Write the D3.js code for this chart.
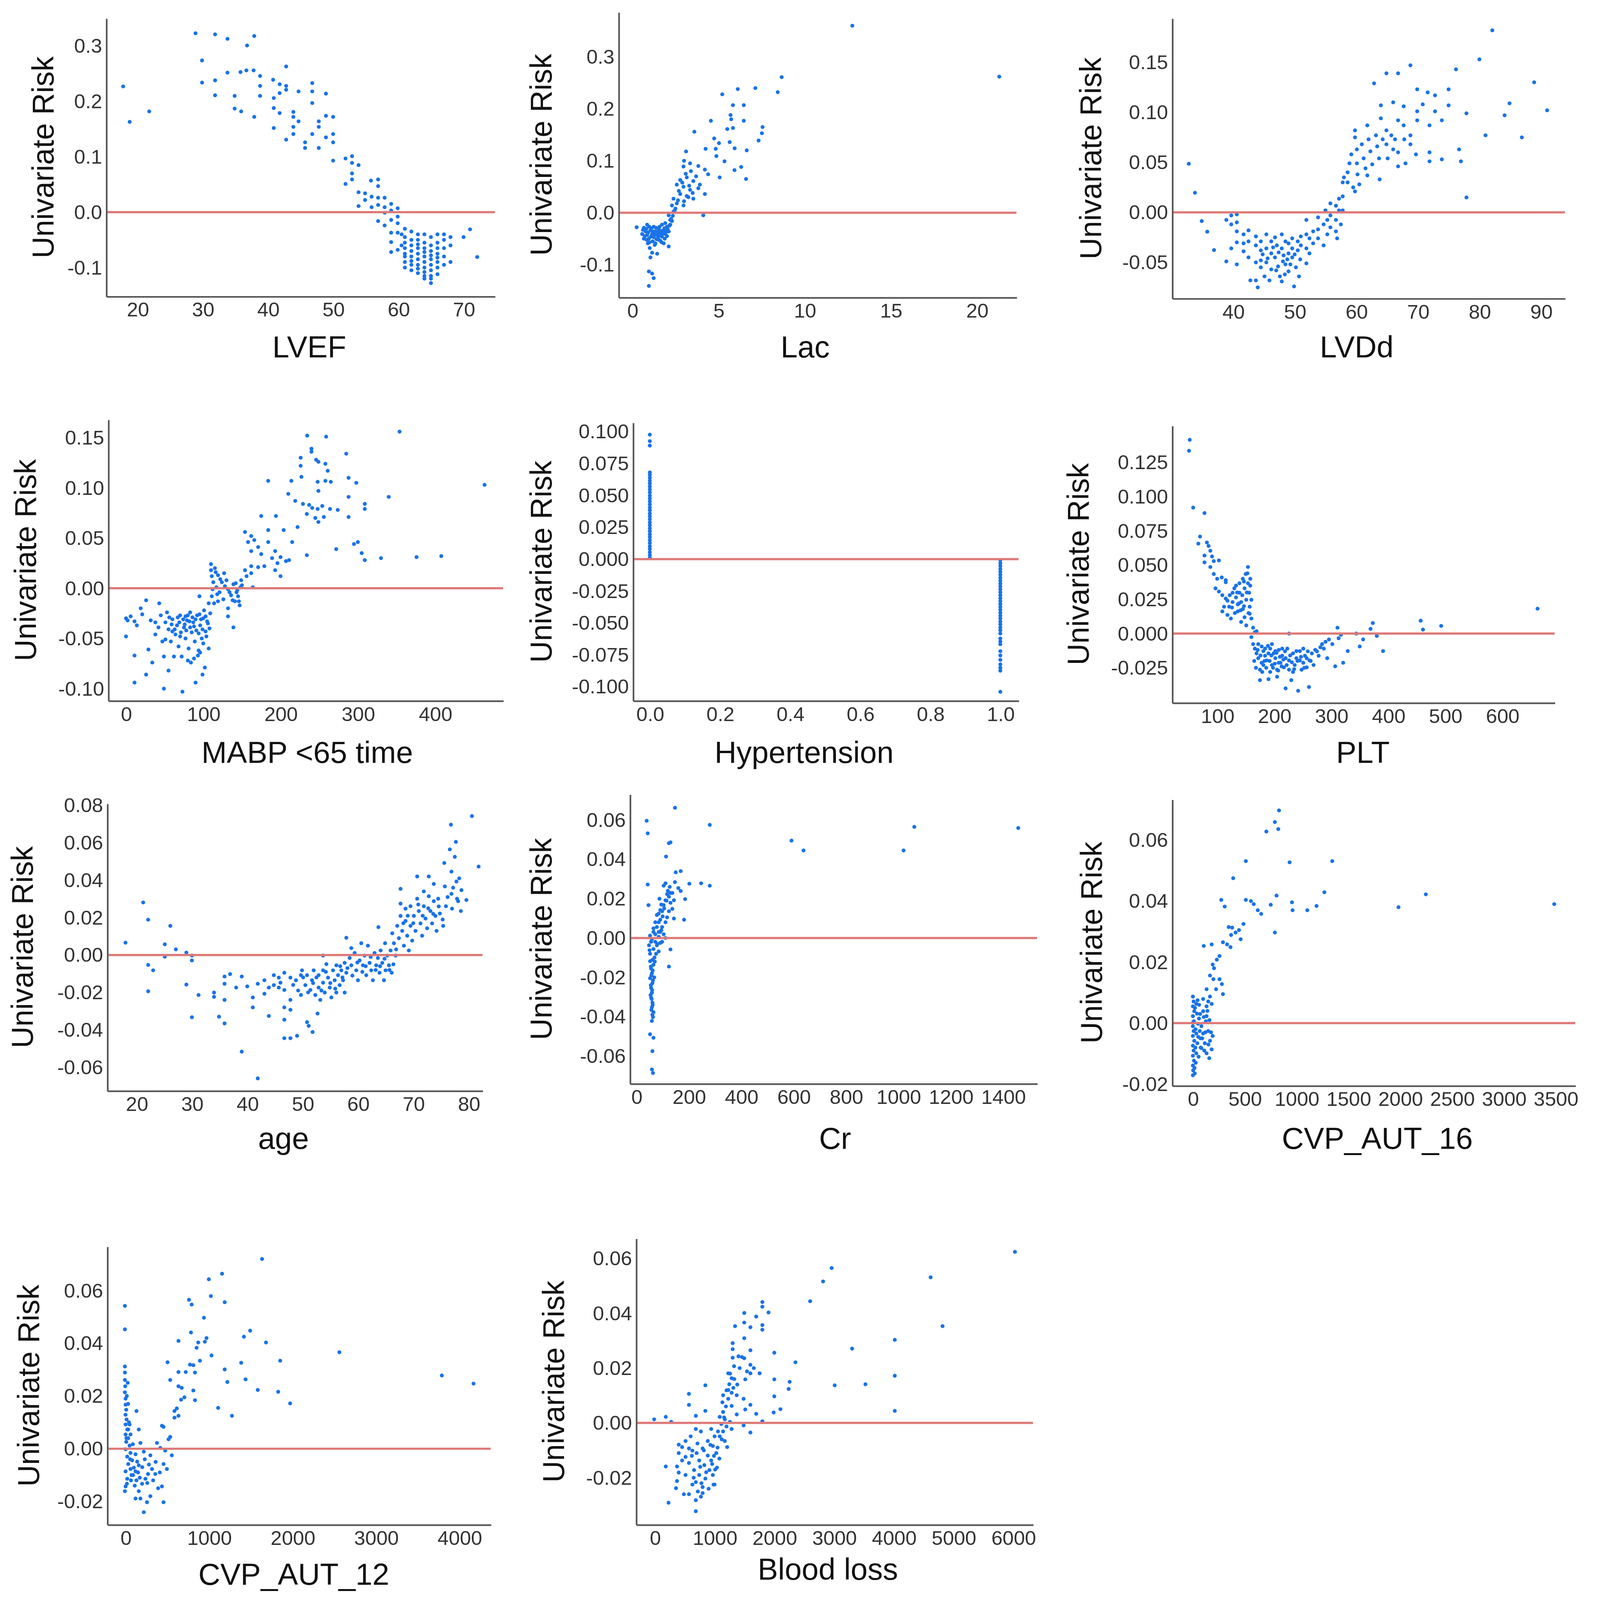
<!DOCTYPE html>
<html>
<head>
<meta charset="utf-8">
<script src="https://cdn.jsdelivr.net/npm/d3@7"></script>
<style>
  html, body { margin: 0; width: 100%; height: 100%; overflow: hidden; background: #fff; }
  svg { display: block; }
</style>
</head>
<body>
<script>
// Univariate risk scatter panels.

const lvef = [
  [17.8,0.227],[18.8,0.163],[21.8,0.182],[28.9,0.323],[29.9,0.274],[29.9,0.234],[31.9,0.321],[31.9,0.238],
  [31.9,0.211],[33.8,0.313],[33.8,0.252],[34.9,0.21],[34.9,0.187],[35.8,0.253],[35.9,0.182],[36.8,0.301],
  [36.7,0.256],[37.9,0.318],[37.8,0.256],[37.9,0.172],[38.8,0.246],[38.8,0.228],[38.8,0.21],[40.8,0.239],
  [40.9,0.206],[40.9,0.188],[40.9,0.152],[41.8,0.231],[41.8,0.215],[41.8,0.179],[42.8,0.263],[42.8,0.228],
  [42.8,0.221],[42.8,0.131],[43.9,0.181],[43.9,0.172],[43.9,0.154],[43.9,0.141],[44.7,0.218],[44.7,0.164],
  [45.7,0.126],[45.7,0.116],[46.8,0.233],[46.8,0.218],[46.8,0.197],[46.8,0.141],[47.8,0.164],[47.8,0.154],
  [47.8,0.116],[48.9,0.214],[48.9,0.174],[48.9,0.135],[50,0.172],[50,0.141],[50,0.126],[50,0.093],
  [51.9,0.097],[51.9,0.051],[52.9,0.101],[52.9,0.089],[52.9,0.07],[52.9,0.059],[53.9,0.085],[53.9,0.036],
  [53.9,0.011],[54.9,0.034],[54.9,0.022],[55.8,0.057],[55.9,0.028],[55.9,0.009],[56.9,0.059],[56.9,0.047],
  [56.9,0.026],[56.9,0.013],[56.9,-0.016],[57.9,0.026],[57.9,0.009],[57.9,-0.001],[57.9,-0.024],[58.9,0.015],
  [58.9,0.003],[58.9,-0.014],[58.9,-0.037],[58.9,-0.054],[58.9,-0.072],[59.9,0.007],[59.9,-0.008],[59.9,-0.02],
  [59.9,-0.037],[59.9,-0.068],[60.5,-0.04],[60.5,-0.06],
  [61,-0.03],[61,-0.045],[61,-0.055],[61,-0.065],[61,-0.075],[61,-0.08],[61,-0.09],[61,-0.1],
  [62,-0.035],[62,-0.05],[62,-0.06],[62,-0.07],[62,-0.08],[62,-0.088],[62,-0.095],[62,-0.105],
  [63,-0.04],[63,-0.05],[63,-0.058],[63,-0.065],[63,-0.075],[63,-0.085],[63,-0.095],[63,-0.102],[63,-0.11],
  [64,-0.04],[64,-0.055],[64,-0.065],[64,-0.072],[64,-0.08],[64,-0.09],[64,-0.1],[64,-0.108],[64,-0.115],[64,-0.12],
  [65,-0.045],[65,-0.06],[65,-0.07],[65,-0.078],[65,-0.085],[65,-0.095],[65,-0.105],[65,-0.115],[65,-0.12],[65,-0.128],
  [66,-0.04],[66,-0.055],[66,-0.065],[66,-0.075],[66,-0.082],[66,-0.09],[66,-0.1],[66,-0.112],
  [67,-0.04],[67,-0.05],[67,-0.065],[67,-0.08],[67,-0.095],[68,-0.045],[68,-0.06],[68,-0.09],
  [70,-0.045],[71,-0.031],[72.1,-0.081]
];

const lac = [
  [12.77,0.36],[21.3,0.262],[8.67,0.261],[8.44,0.232],[7.14,0.24],[6.12,0.238],[5.22,0.228],[5.84,0.207],
  [6.47,0.207],[5.7,0.188],[5.74,0.18],[6.47,0.177],[4.56,0.177],[5.84,0.163],[5.51,0.161],[7.56,0.165],
  [7.52,0.153],[3.6,0.156],[4.75,0.143],[7.33,0.139],[5.65,0.136],[5.03,0.134],[4.25,0.123],[4.84,0.123],
  [5.94,0.124],[6.64,0.12],[3.12,0.118],[4.88,0.109],[5.35,0.099],[6.32,0.088],[5.93,0.082],[5.07,0.068],
  [6.6,0.065],[2.97,0.089],[3.35,0.095],[3.83,0.09],[4.21,0.083],[4.4,0.074],[2.78,0.063],[3.16,0.068],
  [3.54,0.061],[3.92,0.054],[3.83,0.047],[2.58,0.054],[2.97,0.05],[3.35,0.044],[2.78,0.036],[3.16,0.032],
  [2.39,0.027],[3.54,0.027],[2.58,0.018],[2.97,0.014],[2.3,0.014],[4.21,0.036],[4.12,-0.005],[2.39,0.002],
  [2.11,-0.005],[2.2,-0.014],[0.25,-0.028],[0.67,-0.029],[0.77,-0.036],[0.86,-0.043],[0.96,-0.05],[1.05,-0.034],
  [1.15,-0.041],[1.24,-0.047],[1.34,-0.036],[1.44,-0.043],[1.53,-0.032],[1.63,-0.038],[1.72,-0.046],[1.82,-0.034],
  [1.91,-0.041],[2.01,-0.027],[2.11,-0.036],[1.82,-0.059],[2.11,-0.065],[0.9,-0.059],[1.01,-0.068],[1.15,-0.077],
  [1.44,-0.079],[1.05,-0.086],[0.96,-0.113],[1.15,-0.117],[1.24,-0.126],[0.96,-0.141],[0.57,-0.041],[0.67,-0.05],
  [1.24,-0.027],[1.53,-0.052],[1.72,-0.023],[1.91,-0.02],[0.86,-0.023],[1.34,-0.059],[1.63,-0.054],[2.01,-0.045],
  [2.2,-0.023],[2.3,-0.016],[2.7,0.042],[2.9,0.058],[3.1,0.075],[3.3,0.052],[3.5,0.038],[2.5,0.008],
  [2.65,0.024],[3.0,0.022],[3.25,0.03],[3.7,0.07],[3.0,0.1],[3.4,0.08],
  [0.62,-0.033],[0.72,-0.045],[0.81,-0.031],[0.83,-0.052],[0.92,-0.038],[0.98,-0.027],[1.0,-0.057],[1.08,-0.046],
  [1.1,-0.03],[1.18,-0.055],[1.2,-0.036],[1.28,-0.042],[1.3,-0.062],[1.38,-0.029],[1.4,-0.051],[1.48,-0.038],
  [1.5,-0.046],[1.58,-0.027],[1.6,-0.044],[1.68,-0.035],[1.7,-0.057],[1.78,-0.04],[1.86,-0.03],[1.88,-0.05],
  [1.96,-0.037],[2.05,-0.032],[2.15,-0.025],[2.25,-0.012],[2.35,-0.006],[2.45,0.004]
];

const lvdd = [
  [32.8,0.0486],[33.8,0.0196],[34.9,-0.0087],[35.8,-0.0193],[36.9,-0.0377],[38.9,-0.0075],[38.9,-0.049],
  [39.7,-0.003],[39.7,-0.012],[39.7,-0.036],[40.6,-0.002],[40.6,-0.01],[40.6,-0.019],[40.6,-0.03],[40.6,-0.052],
  [41.7,-0.022],[41.7,-0.031],[41.7,-0.039],[42.5,-0.018],[42.5,-0.029],[42.5,-0.045],[42.8,-0.068],[43.7,-0.068],
  [43.7,-0.024],[43.7,-0.033],[43.7,-0.05],[44,-0.075],[44.5,-0.029],[44.5,-0.038],[44.5,-0.048],[44.5,-0.055],
  [45.1,-0.064],[45.4,-0.022],[45.4,-0.036],[45.4,-0.05],[45.9,-0.068],[46.2,-0.029],[46.2,-0.041],[46.2,-0.057],
  [46.8,-0.025],[46.8,-0.045],[47.1,-0.033],[47.3,-0.054],[47.6,-0.064],[47.9,-0.022],[47.9,-0.036],[47.9,-0.069],
  [48.2,-0.043],[48.5,-0.029],[48.5,-0.052],[49,-0.031],[49,-0.041],[49,-0.059],[49.6,-0.026],[49.6,-0.036],
  [49.6,-0.045],[49.9,-0.074],[50.2,-0.055],[50.5,-0.029],[50.5,-0.038],[50.7,-0.064],[51,-0.024],[51,-0.033],
  [51.9,-0.0075],[51.9,-0.022],[51.9,-0.036],[51.9,-0.051],[52.4,-0.026],[52.4,-0.041],[53,-0.019],[53,-0.031],
  [53.8,-0.005],[53.8,-0.017],[53.8,-0.026],[54.7,-0.033],[54.7,-0.012],[55,0.002],[55.3,-0.0075],[55.3,-0.022],
  [55.8,0.009],[55.8,-0.003],[55.8,-0.015],[56.7,0.0066],[56.7,-0.0075],[56.7,-0.019],[56.9,-0.026],[57.2,0.0137],
  [57.2,0.002],[57.5,-0.012],[57.8,0.016],[57.8,0.03],[57.8,0.002],[58,0.035],[58.6,0.03],[58.6,0.04],
  [58.9,0.049],[59.2,0.058],[59.5,0.025],[59.8,0.021],[59.8,0.082],[59.8,0.075],[60.1,0.063],[60.1,0.049],
  [60.2,0.038],[60.5,0.028],[60.9,0.068],[61.2,0.054],[61.5,0.044],[61.8,0.037],[61.8,0.087],[62,0.073],
  [62.3,0.061],[62.6,0.048],[62.9,0.129],[63.2,0.077],[63.4,0.066],[63.7,0.054],[63.8,0.033],[64,0.107],
  [64,0.094],[64.3,0.073],[64.9,0.139],[64.9,0.082],[64.9,0.068],[65.1,0.054],[65.7,0.077],[66,0.11],
  [66,0.063],[66.3,0.073],[66.8,0.139],[66.8,0.092],[66.8,0.06],[66.8,0.046],[67.7,0.106],[67.7,0.087],
  [67.8,0.073],[68,0.049],[68.8,0.147],[68.8,0.077],[68.8,0.068],[69.7,0.058],[69.9,0.123],[69.9,0.101],
  [69.9,0.092],[70.8,0.108],[71.6,0.12],[71.9,0.087],[71.9,0.06],[71.9,0.051],[72.8,0.117],[72.8,0.101],
  [73.9,0.092],[73.9,0.053],[75,0.123],[75,0.107],[76.2,0.143],[76.7,0.063],[77,0.051],[77.9,0.099],
  [77.9,0.0149],[80,0.153],[81,0.077],[82.1,0.182],[84.1,0.097],[84.9,0.109],[86.9,0.075],[88.9,0.13],[91,0.102],
  [44.8,-0.042],[45.6,-0.046],[46.5,-0.035],[47.4,-0.04],[48.1,-0.049],[48.8,-0.047],[49.3,-0.052],[50,-0.042],
  [50.9,-0.047],[47,-0.058],[48.4,-0.062]
];

const mabp = [
  [354,0.156],[464,0.103],[234.5,0.152],[259,0.151],[285,0.134],[226,0.13],[240,0.139],[240,0.136],[246,0.128],
  [249,0.126],[258,0.124],[226,0.122],[261,0.117],[184,0.107],[214,0.107],[227,0.111],[248,0.106],[258,0.107],
  [265,0.106],[288,0.11],[298,0.105],[210,0.094],[249,0.097],[288,0.091],[340,0.091],[219,0.087],[229,0.084],
  [237,0.083],[241,0.08],[248,0.079],[254,0.082],[264,0.079],[274,0.078],[309,0.084],[309,0.079],[234,0.074],
  [245,0.07],[249,0.066],[256,0.071],[288,0.071],[175,0.072],[194,0.072],[222,0.061],[204,0.058],[215,0.046],
  [184,0.058],[154,0.056],[162,0.052],[166,0.048],[158,0.046],[171,0.041],[162,0.037],[175,0.034],[184,0.046],
  [193,0.037],[200,0.031],[207,0.027],[211,0.028],[196,0.025],[189,0.03],[179,0.022],[171,0.021],[162,0.022],
  [154,0.018],[162,0.015],[156,0.012],[149,0.008],[142,0.005],[164,0.001],[193,0.018],[200,0.012],[234,0.033],
  [272,0.039],[295,0.044],[300,0.046],[309,0.028],[330,0.03],[376,0.031],[408,0.032],[305,0.035],
  [110,0.024],[110,0.018],[111,0.012],[113,0.006],[112,-0.001],[111,-0.008],[115,0.02],[119,0.013],[117,0.001],
  [121,-0.004],[124,0.006],[126,-0.011],[130,0.008],[132,-0.001],[132,-0.02],[136,-0.007],[139,0.004],[141,-0.013],
  [143,-0.004],[145,-0.008],[147,-0.017],[148,0.001],[139,-0.039],[132,-0.028],[119,-0.013],[114,-0.015],
  [0,-0.048],[0,-0.03],[2,-0.032],[6,-0.028],[11,-0.033],[14,-0.037],[11,-0.067],[11,-0.094],[19,-0.02],
  [21,-0.026],[26,-0.012],[26,-0.086],[29,-0.061],[32,-0.032],[34,-0.074],[38,-0.046],[42,-0.039],[43,-0.015],
  [45,-0.027],[47,-0.053],[49,-0.068],[49,-0.1],[51,-0.034],[53,-0.024],[55,-0.082],[55,-0.041],[58,-0.053],
  [60,-0.031],[62,-0.068],[64,-0.046],[66,-0.037],[68,-0.058],[70,-0.027],[72,-0.068],[73,-0.103],[75,-0.039],
  [77,-0.05],[79,-0.032],[81,-0.06],[83,-0.024],[84,-0.074],[85,-0.044],[87,-0.034],[89,-0.053],[90,-0.094],
  [92,-0.027],[93,-0.067],[94,-0.062],[95,-0.008],[96,-0.037],[98,-0.05],[99,-0.086],[100,-0.03],[101,-0.022],
  [102,-0.079],[103,-0.043],[104,-0.048],[106,-0.035],[107,-0.06],[107,-0.015],[109,-0.025],[77,-0.028],
  [83,-0.039],[90,-0.031],[94,-0.045],[70,-0.048],[60,-0.043],[51,-0.051],[38,-0.034],
  [56,-0.029],[59,-0.036],[63,-0.041],[67,-0.029],[69,-0.034],[71,-0.044],[74,-0.031],[76,-0.036],[78,-0.042],
  [80,-0.027],[82,-0.033],[86,-0.029],[88,-0.038],[91,-0.042],[95,-0.026],[97,-0.031],[99,-0.041],[103,-0.028],
  [105,-0.033],[108,-0.04],[100,-0.055],[96,-0.064],[88,-0.07],[80,-0.072],
  [116,0.016],[122,0.009],[128,0.002],[134,-0.004],[138,-0.012],[144,-0.002],[150,0.003],[146,-0.013],[127,0.015],
  [118,-0.006]
];

// Hypertension is binary: risk values at 0 (no) and 1 (yes).
const hypNo = [
  0.001,0.0032,0.0054,0.0079,0.0101,0.0126,0.0148,0.0173,0.0195,0.0219,0.0242,0.0266,0.0288,0.0313,0.0336,
  0.0358,0.0383,0.0405,0.0429,0.0453,0.0476,0.0498,0.0523,0.0546,0.0569,0.0593,0.0615,0.0638,0.0661,0.068,
  0.089,0.0925,0.0976
];
const hypYes = [
  -0.0008,-0.0031,-0.0053,-0.0077,-0.0099,-0.0122,-0.0146,-0.0168,-0.0191,-0.0214,-0.0237,-0.026,-0.0283,
  -0.0306,-0.0329,-0.0352,-0.0375,-0.0398,-0.0421,-0.0444,-0.0466,-0.049,-0.0512,-0.0536,-0.0558,-0.0583,
  -0.0622,-0.0646,-0.0667,-0.0722,-0.0755,-0.079,-0.0825,-0.0852,-0.0875,-0.104
];

const plt = [
  [51.8,0.1415],[50.6,0.1335],[57.8,0.092],[77.7,0.088],[69.9,0.0708],[66.9,0.0657],[81.9,0.0665],[84.9,0.064],
  [88,0.0605],[77.7,0.057],[77.7,0.052],[91,0.0563],[94,0.0529],[103,0.0534],[88,0.0486],[94,0.0435],[100,0.04],
  [108,0.041],[115,0.039],[115,0.0375],[97,0.033],[103,0.0307],[109,0.028],[115,0.0256],[112,0.0196],[109,0.0162],
  [118,0.0136],[124,0.011],[121,0.0196],[127,0.023],[127,0.0298],[130,0.033],[133,0.035],[133,0.0264],[136,0.0213],
  [136,0.0162],[139,0.0367],[139,0.0298],[142,0.023],[142,0.0085],[145,0.04],[145,0.0179],[148,0.033],[148,0.0119],
  [150,0.0435],[151,0.0247],[151,0.006],[154,0.0367],[154,0.0486],[156,0.0298],[157,0.0196],[157,0.0145],[158,0.035],
  [160,0.0247],[160,0.011],[163,0.0043],[166,0.0009],[169,0.0017],[160,-0.0026],[163,-0.0077],[166,-0.011],
  [169,-0.0145],[172,-0.018],[175,-0.034],[175,-0.0264],[178,-0.0094],[181,-0.0128],[184,-0.0162],[187,-0.0196],
  [190,-0.0333],[193,-0.011],[196,-0.023],[199,-0.0145],[202,-0.018],[205,-0.0264],[208,-0.0119],[211,-0.0213],
  [214,-0.0162],[217,-0.0247],[220,-0.04],[223,-0.011],[226,0],[226,-0.0196],[230,-0.034],[233,-0.0145],
  [236,-0.023],[239,-0.018],[242,-0.0418],[245,-0.0128],[248,-0.0264],[251,-0.0213],[254,-0.0162],[257,-0.0247],
  [261,-0.039],[262,-0.0196],[266,-0.0145],[269,-0.023],[272,-0.0119],[278,-0.0162],[284,-0.0077],[287,-0.011],
  [290,-0.006],[293,-0.018],[296,-0.0043],[302,-0.0077],[307,-0.0239],[311,0.0043],[313,-0.0034],[317,-0.0009],
  [321,-0.0213],[329,-0.0128],[344,0],[350,-0.0094],[356,-0.0043],[369,0.0034],[373,0.0077],[380,-0.0017],
  [391,-0.0128],[457,0.0094],[461,0.0029],[493,0.0056],[662,0.0182],
  [172,-0.0077],[178,-0.0213],[184,-0.011],[190,-0.0145],[196,-0.0077],[202,-0.0128],[208,-0.0213],[214,-0.011],
  [220,-0.018],[226,-0.0264],[233,-0.028],[239,-0.0128],[245,-0.0196],[251,-0.011],[257,-0.018],[181,-0.023],
  [193,-0.028],[205,-0.0315],
  [165,-0.02],[168,-0.025],[171,-0.012],[176,-0.016],[179,-0.028],[183,-0.02],[186,-0.025],[189,-0.009],
  [192,-0.02],[195,-0.016],[198,-0.025],[201,-0.022],[204,-0.014],[207,-0.027],[210,-0.017],[213,-0.024],
  [216,-0.019],[219,-0.013],[222,-0.023],[228,-0.016],[231,-0.021],[235,-0.026],[241,-0.02],[247,-0.017],
  [253,-0.025],[259,-0.013],[264,-0.02],[275,-0.013],[281,-0.01],
  [118,0.024],[122,0.028],[126,0.019],[131,0.015],[135,0.03],[138,0.022],[141,0.017],[144,0.028],[147,0.02],
  [152,0.03],[155,0.015],[158,0.04],[153,0.044],[147,0.038]
];

const age = [
  [18,0.0066],[21.2,0.0281],[22.1,0.0189],[22.1,-0.0053],[22.1,-0.0194],[23,-0.0082],[25.1,0.0057],[25.1,-0.0009],
  [26.1,0.0156],[27.1,0.003],[29,0.0013],[29,-0.0158],[30,-0.0003],[30,-0.0029],[30,-0.0333],[31.2,-0.0214],
  [34,-0.0201],[34,-0.0224],[34.9,-0.033],[35.9,-0.0115],[35.9,-0.0154],[35.9,-0.024],[35.9,-0.0366],[36.9,-0.0102],
  [38,-0.0174],[39,-0.0115],[39,-0.0517],[40,-0.0168],[41,-0.0227],[41,-0.028],[41.9,-0.066],[41.9,-0.0154],
  [43.1,-0.0135],[43.1,-0.0207],[43.9,-0.0326],[43.9,-0.0174],[44.8,-0.0108],[44.8,-0.0161],[45.7,-0.0121],
  [45.7,-0.0174],[46,-0.0148],[46.7,-0.0095],[46.7,-0.0187],[46.7,-0.028],[46.7,-0.0346],[46.7,-0.0445],
  [47.8,-0.0121],[47.8,-0.024],[47.8,-0.0293],[47.8,-0.0445],[48.8,-0.0135],[49,-0.0432],[49.7,-0.0108],
  [49.7,-0.0214],[49.9,-0.0082],[50.5,-0.0161],[50.8,-0.0108],[50.8,-0.0359],[51.1,-0.0379],[51.4,-0.0187],
  [51.7,-0.0135],[51.8,-0.0412],[52,-0.0082],[52.3,-0.0214],[52.7,-0.0313],[52.9,-0.0108],[52.9,-0.0174],
  [53.2,-0.024],[53.7,-0.0003],[53.7,-0.0082],[53.7,-0.0148],[54,-0.0201],[54.3,-0.0049],[54.6,-0.0121],
  [54.9,-0.0174],[55.2,-0.0227],[55.5,-0.0082],[55.8,-0.0135],[56.1,-0.0055],[56.1,-0.0201],[56.4,-0.0108],
  [56.7,-0.0161],[57,-0.0082],[57.3,-0.0135],[57.6,-0.0042],[57.6,-0.0201],[57.9,0.0092],[57.9,-0.0095],
  [58.5,-0.0016],[58.8,0.0037],[58.8,-0.0055],[59.4,0.0011],[59.7,-0.0082],[60,-0.0135],[60.3,-0.0029],
  [60.6,0.0063],[60.9,-0.0055],[61.2,-0.0003],[61.5,-0.0108],[61.8,0.005],[62.1,-0.0042],[62.4,-0.0082],
  [62.7,-0.0135],[63,0.0011],[63.3,-0.0055],[63.6,-0.0016],[63.7,0.0149],[63.9,-0.0095],[64.1,0.0024],
  [64.4,-0.0042],[64.7,-0.0135],[64.9,0.0063],[65,-0.0082],[65.3,-0.0003],[65.6,-0.0055],[65.9,0.0024],
  [66.1,-0.0095],[66.2,0.0116],[66.5,0.0063],[66.8,-0.0003],[67.1,0.0156],[67.4,0.009],[67.7,0.0354],
  [67.7,0.0275],[67.7,0.0209],[68,0.0129],[68.3,0.005],[68.6,0.0248],[68.6,0.0182],[68.9,0.0103],[69.2,0.0024],
  [69.5,0.0261],[69.5,0.0156],[69.8,0.0077],[70.1,0.0209],[70.4,0.0129],[70.7,0.042],[70.7,0.0301],[71,0.0235],
  [71.3,0.0169],[71.6,0.0103],[71.9,0.034],[71.9,0.0261],[72.2,0.0195],[72.5,0.0143],[72.8,0.042],[72.8,0.0314],
  [73.1,0.0235],[73.4,0.0169],[73.7,0.038],[73.7,0.0288],[74,0.0209],[74.2,0.0129],[74.5,0.0301],[74.8,0.0222],
  [75.4,0.0156],[75.6,0.0492],[75.7,0.0367],[75.9,0.0261],[76.6,0.0565],[76.8,0.0697],[76.9,0.0446],[76.9,0.0327],
  [77,0.0248],[77.5,0.0525],[77.7,0.0605],[77.8,0.0393],[77.9,0.0301],[78.1,0.0288],[78.6,0.0235],[78.7,0.0347],
  [79.6,0.0294],[80.6,0.0743],[81.8,0.0473],
  [48.3,-0.016],[49.2,-0.019],[50.1,-0.012],[51,-0.02],[51.9,-0.015],[52.5,-0.012],[53.4,-0.019],[54.2,-0.009],
  [55,-0.015],[55.9,-0.018],[56.8,-0.006],[57.2,-0.012],[58.1,-0.007],[59,-0.011],[59.9,-0.004],[60.8,-0.009],
  [61.4,-0.006],[62.3,-0.001],[63.2,-0.008],[64,-0.006],[64.8,-0.002],[65.7,-0.008],[66.4,-0.005],[66.9,0.003],
  [68.2,0.017],[69,0.021],[70,0.017],[70.9,0.027],[71.7,0.021],[72.7,0.025],[73.6,0.022],[74.6,0.026],
  [75.3,0.019],[76.2,0.031],[77.2,0.036],[78.3,0.041]
];

const cr = [
  [39,0.0596],[43,0.0532],[147,0.0662],[280,0.0575],[592,0.0495],[638,0.0445],[1020,0.0445],[1061,0.0565],
  [1458,0.0559],[43,0.0272],[46,0.0167],[113,0.0414],[124,0.0482],[130,0.0486],[150,0.0334],[169,0.034],
  [147,0.0284],[111,0.0278],[104,0.0266],[202,0.0276],[247,0.0278],[280,0.0266],[160,0.0254],[169,0.0239],
  [130,0.0229],[124,0.021],[186,0.0198],[111,0.0192],[104,0.0167],[137,0.0148],[124,0.0136],[98,0.0136],
  [85,0.0124],[143,0.0099],[182,0.0093],[91,0.0093],[72,0.008],[78,0.0056],[65,0.0031],[98,0.0056],[85,0.0031],
  [104,0.0019],[52,0.0012],[59,-0.0006],[72,-0.0019],[91,-0.0025],[48,-0.0037],[65,-0.0056],[85,-0.0068],
  [52,-0.008],[69,-0.0099],[52,-0.0118],[65,-0.0136],[56,-0.0155],[59,-0.0179],[52,-0.0204],[61,-0.0229],
  [56,-0.0254],[59,-0.0278],[56,-0.0303],[61,-0.0328],[59,-0.0352],[65,-0.0377],[63,-0.0402],[59,-0.0421],
  [52,-0.0489],[65,-0.0507],[61,-0.0575],[59,-0.0668],[63,-0.0686],[130,-0.0058],[124,-0.0145],
  [72,0.0019],[85,0.0006],[98,-0.0019],[111,0],[78,-0.0037],[91,0.0031],[65,0.0049],[111,0.008],[117,0.0105],
  [91,0.0142],[78,0.0117],[56,-0.0019],[50,-0.0062],[75,-0.008],[61,-0.0111],[85,0.008],[130,0.0179],
  [143,0.0192],[137,0.0229],[117,0.0223],
  [55,-0.0145],[62,-0.0165],[57,-0.019],[63,-0.0215],[55,-0.024],[60,-0.0265],[54,-0.029],[58,-0.031],
  [62,-0.034],[57,-0.0365],[61,-0.039],[68,-0.02],[70,-0.012],[80,-0.003],[95,0.004],[100,0.011],[106,0.015],
  [115,0.019],[120,0.024],[127,0.026],[95,0.017],[88,0.02]
];

const cvp16 = [
  [831,0.0697],[791,0.0659],[824,0.0636],[709,0.0628],[511,0.0531],[933,0.0527],[1345,0.0531],[389,0.0475],
  [1269,0.0429],[807,0.0418],[2248,0.0422],[274,0.0404],[307,0.0382],[511,0.0404],[560,0.04],[587,0.039],
  [751,0.0388],[956,0.0396],[962,0.037],[1104,0.037],[1193,0.0384],[626,0.037],[659,0.0358],[1984,0.038],
  [3487,0.039],[791,0.0297],[488,0.0325],[346,0.0315],[379,0.0313],[412,0.0297],[445,0.0305],[461,0.0275],
  [369,0.0289],[330,0.0258],[363,0.0249],[290,0.0265],[105,0.0253],[181,0.0258],[257,0.022],[231,0.0208],
  [191,0.0192],[204,0.018],[165,0.0156],[198,0.0144],[257,0.0144],[280,0.0128],[132,0.0111],[224,0.0111],
  [290,0.0095],[165,0.0087],[148,0.0071],[99,0.0079],[132,0.0055],[181,0.0063],
  [0,0.0087],[7,0.0071],[0,0.0055],[13,0.0039],[0,0.0023],[10,0.0006],[0,-0.001],[7,-0.0026],[0,-0.0042],
  [13,-0.0058],[0,-0.0074],[7,-0.009],[0,-0.0107],[10,-0.0123],[0,-0.0139],[3,-0.0155],[0,-0.0171],
  [33,0.0063],[40,0.0031],[49,-0.0002],[33,-0.0034],[43,-0.0066],[33,-0.0099],[59,0.0015],[66,-0.0026],
  [73,-0.005],[82,-0.001],[82,-0.0082],[99,0.0039],[99,-0.0034],[115,-0.0066],[125,0.0006],[132,-0.0099],
  [148,-0.0026],[158,-0.0115],[165,-0.0058],[181,-0.0086],[191,-0.0042],[132,0.0023],[16,-0.0147],
  [20,0.005],[26,-0.002],[24,-0.008],[28,-0.013],[45,0.0075],[52,-0.0045],[55,-0.011],[60,0.006],[70,0.003],
  [75,-0.008],[90,-0.005],[105,0.002],[110,-0.009],[120,-0.003],[140,0.004],[150,-0.007],[160,0.001],
  [175,-0.003],[5,0.0004],[18,-0.0165]
];

const cvp12 = [
  [1636,0.072],[1156,0.0664],[998,0.0643],[1022,0.0579],[1188,0.0556],[760,0.0565],[792,0.0547],[939,0.0497],
  [1493,0.0448],[1418,0.0425],[784,0.0441],[634,0.0409],[970,0.042],[950,0.0406],[871,0.0403],[851,0.0383],
  [1683,0.0403],[2562,0.0366],[1030,0.0354],[891,0.0334],[503,0.0328],[1853,0.0334],[1386,0.0326],[772,0.0319],
  [812,0.0317],[634,0.0291],[721,0.0291],[832,0.0289],[1188,0.0301],[535,0.0261],[1220,0.0253],[1438,0.0263],
  [3790,0.0278],[4170,0.0247],[634,0.0237],[673,0.0231],[812,0.0221],[1584,0.0223],[1829,0.0216],[665,0.0186],
  [705,0.0195],[832,0.0184],[1972,0.0172],[614,0.0153],[586,0.0143],[1109,0.0155],[586,0.0118],[634,0.0125],
  [1275,0.0125],[436,0.0087],[455,0.0083],[535,0.0045],[515,0.0036],[376,0.0022],[416,0.0003],[475,-0.0007],
  [554,-0.0025],[495,-0.0077],[455,-0.0058],[356,-0.0096],[317,-0.0077],[269,-0.0096],[436,-0.0143],[455,-0.0203],
  [297,-0.018],[257,-0.0203],[218,-0.0241],[178,-0.0189],[119,-0.0189],[158,-0.0161],[198,-0.0133],[238,-0.0114],
  [158,0.0073],[131,0.0143],[178,0.0022],[218,-0.0011],[297,-0.0025],
  [-8,0.0542],[-8,0.0453],[-8,0.0312],[-8,0.0289],[-8,0.0261],[-4,0.0237],[-8,0.0214],[0,0.019],[0,0.0167],
  [8,0.0148],[0,0.0129],[12,0.0111],[0,0.0092],[20,0.0073],[0,0.0054],[32,0.004],[8,0.0026],[48,0.0012],
  [0,-0.0002],[59,-0.0016],[20,-0.003],[79,-0.0044],[32,-0.0058],[99,-0.0072],[0,-0.0086],[71,-0.01],
  [20,-0.0114],[0,-0.0143],[-8,-0.0161],[48,0.0092],[59,0.0054],[87,0.0017],[119,-0.0021],[139,-0.0049],
  [59,-0.0077],[119,-0.0086],[158,-0.0063],[32,0.0073],[16,-0.0133],
  [25,0.025],[15,0.02],[30,0.017],[40,0.01],[10,0.004],[55,-0.004],[65,-0.012],[90,-0.01],[110,-0.014],
  [130,-0.012],[150,-0.009],[170,-0.011],[200,-0.007],[230,-0.004],[260,-0.013],[280,-0.006],[330,-0.012],
  [360,-0.005],[390,-0.015],[410,-0.009]
];

const bloodLoss = [
  [6029,0.0624],[2960,0.0565],[2817,0.0516],[2600,0.0444],[4617,0.0531],[4817,0.0353],[4017,0.0303],[3303,0.0271],
  [4017,0.0172],[4017,0.0044],[3011,0.0137],[3526,0.0141],[2354,0.0221],[2257,0.015],[2240,0.0124],[2000,0.0256],
  [2000,0.0159],[2000,0.0097],[1989,0.0038],[2103,0.005],[1800,0.0441],[1800,0.0424],[1903,0.0403],[1697,0.0388],
  [1800,0.0357],[1800,0.034],[1497,0.0401],[1497,0.0366],[1600,0.0349],[1343,0.0353],[1497,0.0309],[1303,0.0291],
  [1303,0.0269],[1600,0.0265],[1400,0.0243],[1303,0.0238],[1497,0.0236],[1600,0.0212],[1657,0.02],[1326,0.0207],
  [1543,0.0188],[1600,0.0181],[1754,0.0181],[1229,0.0181],[1286,0.0163],[1514,0.0159],[1246,0.0141],[1314,0.0128],
  [1200,0.0119],[1286,0.011],[1371,0.0101],[1143,0.0101],[1229,0.0088],[1486,0.0088],[1600,0.0066],[1514,0.0049],
  [1697,0.0033],[1800,0.0006],[1131,0.0075],[1286,0.0062],[1371,0.0031],[1143,0.004],[1086,0.0022],[1171,0.0013],
  [1257,0.0004],[1114,-0.0004],[1200,-0.0013],[1286,-0.0022],[1143,-0.0031],[1486,-0.0009],[1600,-0.0035],
  [1086,-0.0049],[1171,-0.0066],[1211,-0.0088],[846,0.0137],[571,0.0106],[571,0.0066],[846,0.0044],[686,0.0026],
  [-11,0.0013],[183,0.0022],[274,0.0004],[371,-0.0159],[183,-0.0159],[400,-0.0079],[457,-0.0088],[514,-0.0066],
  [571,-0.0093],[400,-0.011],[457,-0.0137],[514,-0.0124],[571,-0.0146],[600,-0.0049],[629,-0.0101],[657,-0.0172],
  [686,-0.0022],[714,-0.0075],[686,-0.0216],[743,-0.0137],[743,-0.019],[771,-0.0031],[800,-0.0093],[800,-0.0234],
  [829,-0.0154],[846,-0.0203],[886,-0.0066],[886,-0.0119],[914,-0.0172],[943,-0.0022],[943,-0.0137],[971,-0.0084],
  [971,-0.019],[1000,-0.0049],[1000,-0.0225],[1029,-0.011],[1040,-0.0163],[1057,-0.0031],[983,-0.0225],
  [371,-0.0212],[354,-0.0238],[486,-0.026],[571,-0.026],[686,-0.0282],[771,-0.0269],[800,-0.0256],[229,-0.0291],
  [686,-0.0322],[400,-0.0181],[514,-0.019],[629,-0.0225],
  [620,-0.012],[650,-0.02],[700,-0.011],[720,-0.025],[760,-0.016],[780,-0.022],[820,-0.01],[860,-0.018],
  [900,-0.024],[930,-0.008],[960,-0.015],[990,-0.012],[1010,-0.017],[1050,-0.009],[1080,-0.013],[1120,-0.006],
  [1160,0.002],[1190,0.006],[1230,0.012],[1260,0.018],[1330,0.016],[1380,0.014],[1420,0.02],[1460,0.024]
];

// Tick values per panel.
const lvefXTicks = [20, 30, 40, 50, 60, 70];
const lvefYTicks = [-0.1, 0, 0.1, 0.2, 0.3];
const lacXTicks = [0, 5, 10, 15, 20];
const lacYTicks = [-0.1, 0, 0.1, 0.2, 0.3];
const lvddXTicks = [40, 50, 60, 70, 80, 90];
const lvddYTicks = [-0.05, 0, 0.05, 0.1, 0.15];
const mabpXTicks = [0, 100, 200, 300, 400];
const mabpYTicks = [-0.1, -0.05, 0, 0.05, 0.1, 0.15];
const hypXTicks = [0, 0.2, 0.4, 0.6, 0.8, 1.0];
const hypYTicks = [-0.1, -0.075, -0.05, -0.025, 0, 0.025, 0.05, 0.075, 0.1];
const pltXTicks = [100, 200, 300, 400, 500, 600];
const pltYTicks = [-0.025, 0, 0.025, 0.05, 0.075, 0.1, 0.125];
const ageXTicks = [20, 30, 40, 50, 60, 70, 80];
const ageYTicks = [-0.06, -0.04, -0.02, 0, 0.02, 0.04, 0.06, 0.08];
const crXTicks = [0, 200, 400, 600, 800, 1000, 1200, 1400];
const crYTicks = [-0.06, -0.04, -0.02, 0, 0.02, 0.04, 0.06];
const cvp16XTicks = [0, 500, 1000, 1500, 2000, 2500, 3000, 3500];
const cvp16YTicks = [-0.02, 0, 0.02, 0.04, 0.06];
const cvp12XTicks = [0, 1000, 2000, 3000, 4000];
const cvp12YTicks = [-0.02, 0, 0.02, 0.04, 0.06];
const bloodXTicks = [0, 1000, 2000, 3000, 4000, 5000, 6000];
const bloodYTicks = [-0.02, 0, 0.02, 0.04, 0.06];

const hypertension = [
  ...hypNo.map((v) => [0, v]),
  ...hypYes.map((v) => [1, v]),
];

// Panel layout, in a 1552-wide drawing space scaled to the window.
const panels = [
  { label: "LVEF", data: lvef, box: [103, 480, 18, 291], xDomain: [15.2, 74.8], yDomain: [-0.152, 0.35],
    xTicks: lvefXTicks, yTicks: lvefYTicks, xFmt: "d", yFmt: ".1f", yTitleX: 52, xTitleX: 300, xTitleY: 351 },
  { label: "Lac", data: lac, box: [600, 986, 12, 292], xDomain: [-0.8, 22.3], yDomain: [-0.163, 0.386],
    xTicks: lacXTicks, yTicks: lacYTicks, xFmt: "d", yFmt: ".1f", yTitleX: 535, xTitleX: 781, xTitleY: 351 },
  { label: "LVDd", data: lvdd, box: [1137, 1518, 18, 293], xDomain: [30.1, 93.9], yDomain: [-0.086, 0.194],
    xTicks: lvddXTicks, yTicks: lvddYTicks, xFmt: "d", yFmt: ".2f", yTitleX: 1068, xTitleX: 1316, xTitleY: 351 },
  { label: "MABP <65 time", data: mabp, box: [105, 488, 412, 688], xDomain: [-23, 488], yDomain: [-0.112, 0.168],
    xTicks: mabpXTicks, yTicks: mabpYTicks, xFmt: "d", yFmt: ".2f", yTitleX: 35, xTitleX: 298, xTitleY: 749 },
  { label: "Hypertension", data: hypertension, box: [614, 988, 415, 688], xDomain: [-0.048, 1.052], yDomain: [-0.111, 0.107],
    xTicks: hypXTicks, yTicks: hypYTicks, xFmt: ".1f", yFmt: ".3f", yTitleX: 535, xTitleX: 780, xTitleY: 749 },
  { label: "PLT", data: plt, box: [1137, 1508, 418, 690], xDomain: [21, 692], yDomain: [-0.0505, 0.1518],
    xTicks: pltXTicks, yTicks: pltYTicks, xFmt: "d", yFmt: ".3f", yTitleX: 1056, xTitleX: 1322, xTitleY: 749 },
  { label: "age", data: age, box: [104, 468, 789, 1071], xDomain: [14.7, 82.5], yDomain: [-0.0726, 0.081],
    xTicks: ageXTicks, yTicks: ageYTicks, xFmt: "d", yFmt: ".2f", yTitleX: 32, xTitleX: 275, xTitleY: 1128 },
  { label: "Cr", data: cr, box: [611, 1006, 780, 1064], xDomain: [-25, 1530], yDomain: [-0.074, 0.073],
    xTicks: crXTicks, yTicks: crYTicks, xFmt: "d", yFmt: ".2f", yTitleX: 535, xTitleX: 810, xTitleY: 1128 },
  { label: "CVP_AUT_16", data: cvp16, box: [1137, 1528, 785, 1066], xDomain: [-200, 3690], yDomain: [-0.0205, 0.0733],
    xTicks: cvp16XTicks, yTicks: cvp16YTicks, xFmt: "d", yFmt: ".2f", yTitleX: 1069, xTitleX: 1336, xTitleY: 1128 },
  { label: "CVP_AUT_12", data: cvp12, box: [104, 476, 1224, 1497], xDomain: [-220, 4376], yDomain: [-0.0288, 0.0767],
    xTicks: cvp12XTicks, yTicks: cvp12YTicks, xFmt: "d", yFmt: ".2f", yTitleX: 38, xTitleX: 285, xTitleY: 1556 },
  { label: "Blood loss", data: bloodLoss, box: [617, 1002, 1216, 1497], xDomain: [-314, 6331], yDomain: [-0.0371, 0.0673],
    xTicks: bloodXTicks, yTicks: bloodYTicks, xFmt: "d", yFmt: ".2f", yTitleX: 547, xTitleX: 803, xTitleY: 1551 },
];

const colors = { dot: "#1a73e8", zero: "#de7a78", axis: "#555", tick: "#333", title: "#111" };
const font = "'Liberation Sans', Arial, sans-serif";

// Hyphen minus, as in the source figure.
const format = d3.formatLocale({ decimal: ".", thousands: ",", grouping: [3], currency: ["", ""], minus: "-" }).format;

// Fill the whole window whatever its CSS size.
const svg = d3
  .select("body")
  .append("svg")
  .attr("width", "100%")
  .attr("height", "100%")
  .attr("viewBox", "0 0 1552 1571")
  .attr("preserveAspectRatio", "none");

svg.append("rect").attr("width", 1552).attr("height", 1571).attr("fill", "#fff");

panels.forEach((p) => {
  const [left, right, top, bottom] = p.box;
  const x = d3.scaleLinear().domain(p.xDomain).range([left, right]);
  const y = d3.scaleLinear().domain(p.yDomain).range([bottom, top]);

  const g = svg.append("g").attr("class", "panel");

  // Points.
  g.append("g")
    .selectAll("circle")
    .data(p.data)
    .join("circle")
    .attr("cx", (d) => x(d[0]))
    .attr("cy", (d) => y(d[1]))
    .attr("r", 1.9)
    .attr("fill", colors.dot);

  // Zero reference line.
  g.append("line")
    .attr("x1", left)
    .attr("x2", right)
    .attr("y1", y(0))
    .attr("y2", y(0))
    .attr("stroke", colors.zero)
    .attr("stroke-width", 2.2);

  // Axes, no tick marks.
  const xAxis = g
    .append("g")
    .attr("transform", `translate(0,${bottom})`)
    .call(d3.axisBottom(x).tickValues(p.xTicks).tickFormat(format(p.xFmt)).tickSize(0).tickPadding(6));

  const yAxis = g
    .append("g")
    .attr("transform", `translate(${left},0)`)
    .call(d3.axisLeft(y).tickValues(p.yTicks).tickFormat(format(p.yFmt)).tickSize(0).tickPadding(4));

  [xAxis, yAxis].forEach((a) => {
    a.select(".domain").attr("stroke", colors.axis).attr("stroke-width", 1.6);
    a.selectAll("text")
      .attr("fill", colors.tick)
      .style("font-family", font)
      .style("font-size", "19.5px");
  });

  // Axis titles.
  g.append("text")
    .attr("transform", `translate(${p.yTitleX},${(top + bottom) / 2}) rotate(-90)`)
    .attr("text-anchor", "middle")
    .style("font-family", font)
    .style("font-size", "29.5px")
    .attr("fill", colors.title)
    .text("Univariate Risk");

  g.append("text")
    .attr("x", p.xTitleX)
    .attr("y", p.xTitleY)
    .attr("text-anchor", "middle")
    .style("font-family", font)
    .style("font-size", "29.5px")
    .attr("fill", colors.title)
    .text(p.label);
});
</script>
</body>
</html>
